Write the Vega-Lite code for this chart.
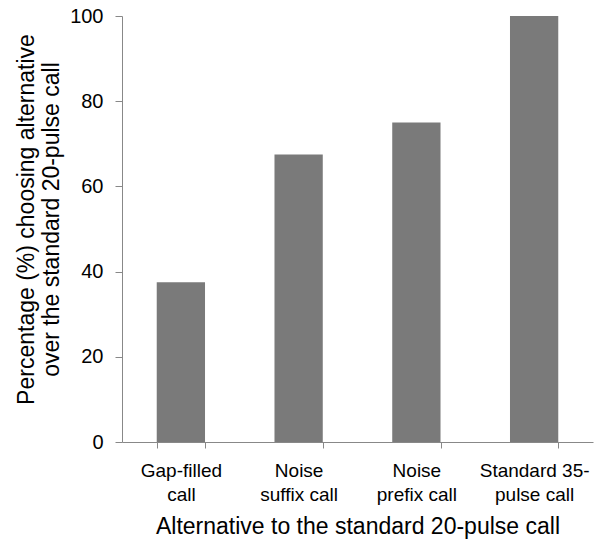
{
  "$schema": "https://vega.github.io/schema/vega-lite/v6.json",
  "width": 471,
  "height": 426,
  "autosize": "none",
  "padding": {"left": 122, "top": 16, "right": 11, "bottom": 108},
  "background": "white",
  "data": {
    "values": [
      {"alternative": "Gap-filled\ncall", "pct": 37.5},
      {"alternative": "Noise\nsuffix call", "pct": 67.5},
      {"alternative": "Noise\nprefix call", "pct": 75},
      {"alternative": "Standard 35-\npulse call", "pct": 100}
    ]
  },
  "mark": {"type": "bar", "color": "#7a7a7a"},
  "encoding": {
    "x": {
      "field": "alternative",
      "type": "nominal",
      "sort": null,
      "scale": {"paddingInner": 0.59, "paddingOuter": 0.295},
      "axis": {
        "title": "Alternative to the standard 20-pulse call",
        "labelAngle": 0,
        "labelExpr": "split(datum.label, '\\n')",
        "labelFont": "Liberation Sans",
        "labelFontSize": 19,
        "labelColor": "#000000",
        "labelLineHeight": 24,
        "labelPadding": 13,
        "tickBand": "extent",
        "tickSize": 6,
        "tickColor": "#888888",
        "domainColor": "#888888",
        "titleFont": "Liberation Sans",
        "titleFontSize": 23,
        "titleFontWeight": "normal",
        "titleColor": "#000000",
        "titlePadding": 11,
        "grid": false
      }
    },
    "y": {
      "field": "pct",
      "type": "quantitative",
      "scale": {"domain": [0, 100]},
      "axis": {
        "title": ["Percentage (%) choosing alternative", "over the standard 20-pulse call"],
        "values": [0, 20, 40, 60, 80, 100],
        "grid": false,
        "labelFont": "Liberation Sans",
        "labelFontSize": 20,
        "labelColor": "#000000",
        "labelPadding": 12,
        "tickSize": 7,
        "tickColor": "#888888",
        "domainColor": "#888888",
        "titleFont": "Liberation Sans",
        "titleFontSize": 23,
        "titleFontWeight": "normal",
        "titleColor": "#000000",
        "titleLineHeight": 25,
        "titlePadding": 6,
        "titleY": 203
      }
    }
  },
  "config": {"view": {"stroke": null}}
}
